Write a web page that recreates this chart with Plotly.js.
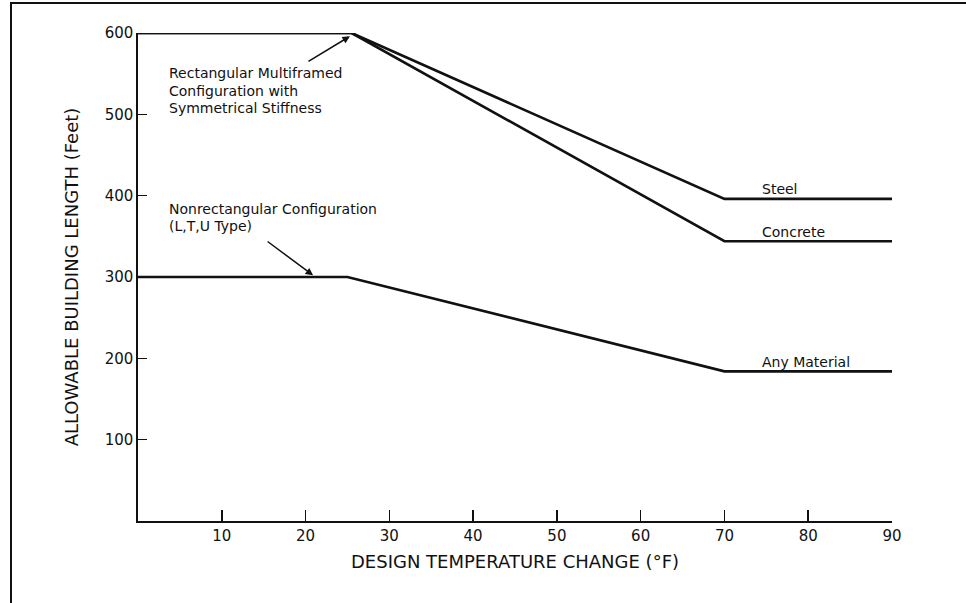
<!DOCTYPE html>
<html>
<head>
<meta charset="utf-8">
<script src="https://cdn.plot.ly/plotly-3.0.1.min.js"></script>
<style>
  html, body { margin: 0; padding: 0; background: #fff; }
  #wrap { position: relative; width: 966px; height: 603px; overflow: hidden; }
  #frame { position: absolute; left: 10px; top: 2px; width: 960px; height: 610px;
           border-left: 2px solid #111; border-top: 2px solid #111; pointer-events: none; z-index: 5; }
  #chart { width: 966px; height: 603px; }
</style>
</head>
<body>
<div id="wrap">
  <div id="chart"></div>
  <div id="frame"></div>
</div>
<script>
// Design temperature change (°F) breakpoints
const steelX = [0, 25.5, 70, 90];
const steelY = [600, 600, 396, 396];
const concreteX = [0, 25.5, 70, 90];
const concreteY = [600, 600, 344, 344];
const anyMatX = [0, 25, 70, 90];
const anyMatY = [300, 300, 184, 184];

const xTicks = [10, 20, 30, 40, 50, 60, 70, 80, 90];
const yTicks = [100, 200, 300, 400, 500, 600];

const lineStyle = {color: '#111', width: 2.6};
const traces = [
  {x: steelX, y: steelY, name: 'Steel', mode: 'lines', line: lineStyle, cliponaxis: false},
  {x: concreteX, y: concreteY, name: 'Concrete', mode: 'lines', line: lineStyle, cliponaxis: false},
  {x: anyMatX, y: anyMatY, name: 'Any Material', mode: 'lines', line: lineStyle, cliponaxis: false}
];

const fontFam = '"DejaVu Sans", Verdana, sans-serif';
function txt(text, x, y) {
  return {text: text, x: x, y: y, xref: 'x', yref: 'y', showarrow: false,
          xanchor: 'left', yanchor: 'middle',
          font: {family: fontFam, size: 14, color: '#111'}};
}
function arrow(x, y, ax, ay) {
  return {text: '', x: x, y: y, xref: 'x', yref: 'y', ax: ax, ay: ay,
          showarrow: true, arrowhead: 2, arrowsize: 1, arrowwidth: 1.5, arrowcolor: '#111'};
}

const layout = {
  width: 966, height: 603,
  margin: {l: 138, r: 74, t: 33, b: 82, pad: 0},
  paper_bgcolor: '#fff', plot_bgcolor: '#fff',
  showlegend: false,
  font: {family: fontFam, color: '#111'},
  xaxis: {
    range: [0, 90], tickvals: xTicks, ticktext: xTicks.map(String),
    showgrid: false, zeroline: false, showline: true, linecolor: '#111', linewidth: 1.6,
    ticks: 'inside', ticklen: 11, tickwidth: 1.6, tickcolor: '#111',
    tickfont: {family: fontFam, size: 15, color: '#111'},
    title: {text: 'DESIGN TEMPERATURE CHANGE (°F)', font: {family: fontFam, size: 18, color: '#111'}, standoff: 12}
  },
  yaxis: {
    range: [0, 600], tickvals: yTicks, ticktext: yTicks.map(String),
    showgrid: false, zeroline: false, showline: true, linecolor: '#111', linewidth: 1.6,
    ticks: 'inside', ticklen: 9, tickwidth: 1.6, tickcolor: '#111',
    tickfont: {family: fontFam, size: 15, color: '#111'},
    title: {text: 'ALLOWABLE BUILDING LENGTH (Feet)', font: {family: fontFam, size: 18, color: '#111'}, standoff: 21}
  },
  annotations: [
    txt('Rectangular Multiframed', 3.46, 551),
    txt('Configuration with', 3.46, 529),
    txt('Symmetrical Stiffness', 3.46, 508),
    txt('Nonrectangular Configuration', 3.46, 384),
    txt('(L,T,U Type)', 3.46, 363),
    txt('Steel', 74.2, 408),
    txt('Concrete', 74.2, 355),
    txt('Any Material', 74.2, 195),
    arrow(25.3, 596, -43, 26),
    arrow(20.9, 302, -47, -35)
  ]
};

Plotly.newPlot('chart', traces, layout, {displayModeBar: false, staticPlot: true});
</script>
</body>
</html>
